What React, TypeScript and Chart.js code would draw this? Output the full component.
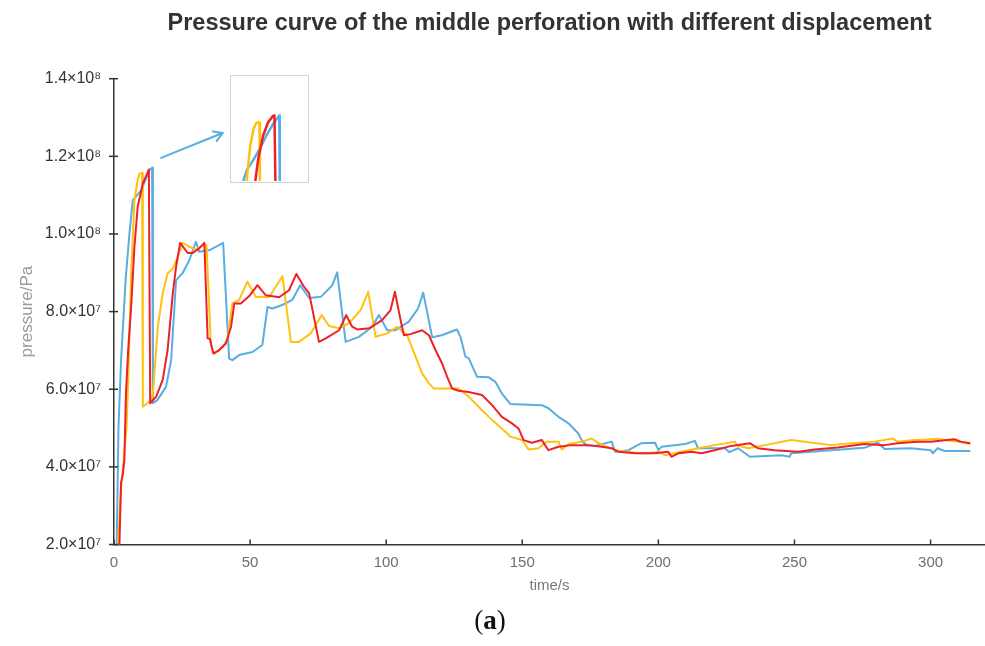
import React, { useEffect, useRef } from "react";
import { Chart, registerables } from "chart.js";

Chart.register(...registerables);

// ---------- text ----------
const chartTitle = "Pressure curve of the middle perforation with different displacement";
const xAxisTitle = "time/s";
const yAxisTitle = "pressure/Pa";

// ---------- axes (pressure in units of 10^7 Pa) ----------
const xMin = 0;
const xMax = 320;
const yMin = 2;
const yMax = 14;
const xTickValues = [0, 50, 100, 150, 200, 250, 300];
const yTickValues = [2, 4, 6, 8, 10, 12, 14];
const yTickLabels = ["2.0×10⁷", "4.0×10⁷", "6.0×10⁷", "8.0×10⁷", "1.0×10⁸", "1.2×10⁸", "1.4×10⁸"];

// ---------- blue series ----------
const blueTime = [0.5, 1.0, 1.65, 2.6, 4.3, 5.7, 6.9, 10.0, 13.0, 14.0, 14.3, 15.9, 19.1, 21.0, 22.8, 25.2, 27.7, 30.1, 31.3, 35.0, 40.1, 42.3, 43.5, 46.0, 50.9, 54.5, 56.4, 58.2, 61.8, 65.5, 68.4, 71.7, 76.0, 80.2, 82.0, 85.1, 90.0, 94.9, 97.3, 100.4, 103.4, 108.3, 111.7, 113.6, 116.9, 120.4, 126.0, 127.3, 129.1, 130.3, 133.4, 137.6, 140.1, 142.5, 145.6, 157.2, 159.6, 163.3, 167.0, 170.6, 172.1, 173.7, 176.8, 182.8, 184.1, 189.0, 193.8, 198.8, 200.0, 201.2, 209.8, 213.4, 214.6, 224.4, 226.0, 229.3, 233.6, 245.2, 248.2, 248.8, 256.2, 263.5, 275.7, 280.6, 283.1, 292.8, 300.1, 300.8, 302.6, 305.1, 314.6];
const bluePressure = [1.6, 2.0, 5.03, 6.75, 8.86, 10.02, 10.87, 11.12, 11.64, 11.71, 5.64, 5.72, 6.06, 6.75, 8.81, 8.99, 9.33, 9.80, 9.54, 9.58, 9.77, 6.79, 6.75, 6.88, 6.96, 7.14, 8.12, 8.08, 8.17, 8.30, 8.68, 8.35, 8.38, 8.68, 9.01, 7.22, 7.35, 7.61, 7.91, 7.52, 7.52, 7.74, 8.08, 8.49, 7.34, 7.39, 7.54, 7.35, 6.84, 6.80, 6.32, 6.31, 6.19, 5.89, 5.62, 5.59, 5.51, 5.29, 5.12, 4.86, 4.65, 4.56, 4.54, 4.65, 4.39, 4.43, 4.61, 4.62, 4.43, 4.52, 4.59, 4.67, 4.48, 4.48, 4.38, 4.48, 4.26, 4.30, 4.26, 4.35, 4.39, 4.43, 4.49, 4.62, 4.46, 4.48, 4.43, 4.35, 4.48, 4.41, 4.41];

// ---------- yellow series ----------
const yellowTime = [0.8, 1.5, 2.5, 3.6, 4.6, 5.3, 6.3, 7.5, 8.7, 9.35, 10.3, 10.6, 13.0, 14.2, 16.1, 17.9, 19.7, 21.6, 23.4, 25.2, 27.7, 30.1, 32.6, 34.0, 35.6, 36.8, 39.9, 41.7, 43.5, 46.0, 49.0, 52.1, 57.0, 61.9, 65.0, 68.0, 72.3, 76.3, 79.0, 82.7, 86.3, 90.6, 93.4, 96.1, 100.4, 104.0, 107.7, 110.8, 113.2, 115.7, 117.5, 126.6, 130.3, 135.2, 138.9, 142.5, 145.6, 149.9, 152.3, 156.0, 159.0, 163.3, 164.5, 167.0, 171.9, 175.5, 178.0, 184.1, 189.0, 192.6, 196.3, 200.0, 202.4, 208.5, 214.6, 220.7, 228.1, 229.0, 233.0, 239.1, 248.8, 253.7, 263.5, 270.8, 279.4, 286.1, 287.9, 294.1, 302.6, 309.9, 314.6];
const yellowPressure = [1.5, 2.0, 3.4, 4.2, 5.0, 6.4, 8.98, 10.87, 11.39, 11.56, 11.57, 5.55, 5.68, 5.81, 7.61, 8.47, 8.98, 9.11, 9.41, 9.77, 9.67, 9.60, 9.71, 9.71, 7.14, 6.92, 7.09, 7.31, 8.21, 8.30, 8.77, 8.38, 8.37, 8.91, 7.22, 7.22, 7.44, 7.91, 7.63, 7.57, 7.70, 8.04, 8.51, 7.35, 7.44, 7.61, 7.39, 6.84, 6.41, 6.15, 6.02, 6.02, 5.81, 5.46, 5.21, 4.99, 4.78, 4.69, 4.45, 4.48, 4.65, 4.65, 4.45, 4.59, 4.65, 4.73, 4.61, 4.43, 4.39, 4.35, 4.35, 4.39, 4.30, 4.39, 4.48, 4.56, 4.65, 4.55, 4.48, 4.56, 4.69, 4.65, 4.56, 4.61, 4.65, 4.73, 4.65, 4.69, 4.72, 4.65, 4.59];

// ---------- red series ----------
const redTime = [1.2, 2.0, 2.6, 3.3, 3.8, 4.4, 5.2, 6.3, 7.5, 8.7, 10.6, 12.8, 13.3, 15.5, 17.9, 19.7, 21.6, 22.8, 24.3, 27.1, 28.9, 31.3, 33.2, 34.4, 35.2, 36.5, 38.7, 41.1, 43.0, 44.2, 46.6, 49.7, 52.7, 55.8, 60.7, 64.3, 67.0, 69.8, 71.7, 75.3, 77.8, 82.7, 85.3, 87.5, 89.4, 93.7, 98.5, 101.6, 103.2, 105.3, 106.5, 108.9, 113.2, 115.7, 118.1, 120.5, 122.4, 124.2, 126.6, 130.3, 135.2, 138.9, 142.5, 146.2, 148.6, 150.5, 153.5, 157.2, 159.6, 163.3, 168.2, 174.3, 179.2, 182.8, 185.3, 191.4, 198.8, 203.6, 204.8, 207.3, 212.2, 215.8, 220.7, 226.8, 233.6, 236.6, 242.7, 251.3, 257.4, 265.9, 275.7, 283.1, 287.9, 295.3, 300.1, 308.7, 311.1, 314.6];
const redPressure = [1.5, 2.0, 3.6, 3.83, 4.18, 5.9, 7.0, 8.12, 9.67, 10.70, 11.30, 11.66, 5.64, 5.81, 6.24, 7.01, 8.47, 9.15, 9.77, 9.51, 9.51, 9.63, 9.77, 7.31, 7.3, 6.92, 7.01, 7.18, 7.61, 8.21, 8.21, 8.40, 8.68, 8.42, 8.37, 8.55, 8.97, 8.64, 8.47, 7.22, 7.31, 7.52, 7.91, 7.61, 7.54, 7.57, 7.78, 8.04, 8.51, 7.78, 7.39, 7.42, 7.52, 7.39, 7.01, 6.67, 6.32, 6.02, 5.96, 5.93, 5.85, 5.59, 5.29, 5.12, 4.99, 4.69, 4.62, 4.69, 4.43, 4.52, 4.56, 4.56, 4.52, 4.48, 4.39, 4.35, 4.35, 4.39, 4.26, 4.35, 4.39, 4.35, 4.43, 4.54, 4.61, 4.48, 4.43, 4.39, 4.45, 4.50, 4.59, 4.56, 4.61, 4.65, 4.65, 4.71, 4.65, 4.61];

// ---------- inset (magnified peak) ----------
const insetXMin = 5.2;
const insetXMax = 19.0;
const insetYMin = 10.3;
const insetYMax = 12.56;
const insetBlueTime = [7.3, 7.53, 8.13, 9.29, 10.46, 11.64, 12.8, 13.67, 13.97, 14.06];
const insetBluePressure = [10.2, 10.34, 10.55, 10.76, 11.0, 11.28, 11.52, 11.66, 11.71, 10.2];
const insetYellowTime = [7.95, 8.36, 8.71, 9.29, 9.76, 10.16, 10.37, 10.46];
const insetYellowPressure = [10.2, 10.69, 11.07, 11.42, 11.54, 11.57, 11.56, 10.2];
const insetRedTime = [9.5, 10.16, 11.04, 11.92, 12.8, 13.09, 13.27];
const insetRedPressure = [10.2, 10.79, 11.28, 11.56, 11.70, 11.71, 10.2];

// arrow pointing from the peak to the inset (data coordinates)
const arrowFrom = { t: 17.3, p: 11.96 };
const arrowTo = { t: 39.9, p: 12.6 };

const blueColor = "#58ADE2";
const yellowColor = "#FFC20E";
const redColor = "#EE2028";
const sansFamily = '"Liberation Sans", Arial, Helvetica, sans-serif';

const toPoints = (t: number[], p: number[]) => t.map((x, i) => ({ x, y: p[i] }));

const axisTickPlugin = {
  id: "axisTicksAndArrow",
  afterDraw(chart: any) {
    const { ctx, chartArea, scales } = chart;
    const xs = scales.x;
    const ys = scales.y;
    ctx.save();
    ctx.strokeStyle = "#333";
    ctx.lineWidth = 1.5;
    xTickValues.forEach((v) => {
      const px = xs.getPixelForValue(v);
      ctx.beginPath();
      ctx.moveTo(px, chartArea.bottom);
      ctx.lineTo(px, chartArea.bottom - 5);
      ctx.stroke();
    });
    yTickValues.forEach((v) => {
      const py = ys.getPixelForValue(v);
      ctx.beginPath();
      ctx.moveTo(chartArea.left - 5, py);
      ctx.lineTo(chartArea.left + 4, py);
      ctx.stroke();
    });
    // arrow
    const x1 = xs.getPixelForValue(arrowFrom.t);
    const y1 = ys.getPixelForValue(arrowFrom.p);
    const x2 = xs.getPixelForValue(arrowTo.t);
    const y2 = ys.getPixelForValue(arrowTo.p);
    const ang = Math.atan2(y2 - y1, x2 - x1);
    ctx.strokeStyle = blueColor;
    ctx.lineWidth = 2;
    ctx.lineCap = "round";
    ctx.beginPath();
    ctx.moveTo(x1, y1);
    ctx.lineTo(x2, y2);
    ctx.moveTo(x2 - 10 * Math.cos(ang - 0.55), y2 - 10 * Math.sin(ang - 0.55));
    ctx.lineTo(x2, y2);
    ctx.lineTo(x2 - 10 * Math.cos(ang + 0.55), y2 - 10 * Math.sin(ang + 0.55));
    ctx.stroke();
    ctx.restore();
  },
};

export default function App() {
  const mainRef = useRef<HTMLCanvasElement | null>(null);
  const insetRef = useRef<HTMLCanvasElement | null>(null);

  useEffect(() => {
    document.body.style.margin = "0";
    const lineDs = (label: string, pts: any[], color: string, order: number, width = 2) => ({
      label,
      data: pts,
      borderColor: color,
      backgroundColor: color,
      borderWidth: width,
      pointRadius: 0,
      tension: 0,
      fill: false,
      order,
      borderJoinStyle: "round",
    });

    const main = new Chart(mainRef.current as HTMLCanvasElement, {
      type: "line",
      data: {
        datasets: [
          lineDs("blue", toPoints(blueTime, bluePressure), blueColor, 2),
          lineDs("yellow", toPoints(yellowTime, yellowPressure), yellowColor, 1),
          lineDs("red", toPoints(redTime, redPressure), redColor, 0),
        ] as any,
      },
      options: {
        animation: false,
        responsive: false,
        layout: { padding: { left: 0, right: 0, top: 0, bottom: 51.5 } },
        plugins: {
          legend: { display: false },
          tooltip: { enabled: false },
          title: {
            display: true,
            text: chartTitle,
            fullSize: false,
            color: "#333",
            font: { family: sansFamily, size: 23.5, weight: "bold" },
            padding: { top: 9, bottom: 41.5 },
          },
        },
        scales: {
          x: {
            type: "linear",
            min: xMin,
            max: xMax,
            afterBuildTicks: (s: any) => {
              s.ticks = xTickValues.map((v) => ({ value: v }));
            },
            afterFit: (s: any) => {
              s.height = 50;
            },
            grid: { display: true, drawOnChartArea: false, drawTicks: false },
            border: { display: true, color: "#333", width: 1.5 },
            ticks: {
              padding: 9,
              color: "#6e6e6e",
              font: { family: sansFamily, size: 15 },
              maxRotation: 0,
              callback: (v: any) => String(v),
            },
            title: {
              display: true,
              text: xAxisTitle,
              color: "#777",
              font: { family: sansFamily, size: 15 },
              padding: { top: 2, bottom: 0 },
            },
          },
          y: {
            type: "linear",
            min: yMin,
            max: yMax,
            afterBuildTicks: (s: any) => {
              s.ticks = yTickValues.map((v) => ({ value: v }));
            },
            afterFit: (s: any) => {
              s.width = 114;
            },
            grid: { display: true, drawOnChartArea: false, drawTicks: false },
            border: { display: true, color: "#333", width: 1.5 },
            ticks: {
              padding: 13,
              color: "#333",
              font: { family: sansFamily, size: 16 },
              callback: (v: any) => {
                const i = yTickValues.indexOf(Number(v));
                return i >= 0 ? yTickLabels[i] : "";
              },
            },
            title: {
              display: true,
              text: yAxisTitle,
              color: "#9a9a9a",
              font: { family: sansFamily, size: 17 },
              padding: { top: 17, bottom: 0 },
            },
          },
        },
      } as any,
      plugins: [axisTickPlugin],
    });

    const inset = new Chart(insetRef.current as HTMLCanvasElement, {
      type: "line",
      data: {
        datasets: [
          lineDs("blue", toPoints(insetBlueTime, insetBluePressure), blueColor, 2, 2.5),
          lineDs("yellow", toPoints(insetYellowTime, insetYellowPressure), yellowColor, 1, 2.5),
          lineDs("red", toPoints(insetRedTime, insetRedPressure), redColor, 0, 2.5),
        ] as any,
      },
      options: {
        animation: false,
        responsive: false,
        layout: { padding: 0 },
        plugins: { legend: { display: false }, tooltip: { enabled: false }, title: { display: false } },
        scales: {
          x: { type: "linear", min: insetXMin, max: insetXMax, display: false },
          y: { type: "linear", min: insetYMin, max: insetYMax, display: false },
        },
      } as any,
    });

    return () => {
      main.destroy();
      inset.destroy();
    };
  }, []);

  return (
    <div style={{ position: "fixed", left: 0, top: 0, width: 985, height: 646, background: "#fff", overflow: "hidden" }}>
      <canvas ref={mainRef} width={985} height={646} style={{ display: "block" }} />
      <div
        style={{
          position: "absolute",
          left: 230,
          top: 75,
          width: 79,
          height: 108,
          boxSizing: "border-box",
          border: "1.5px solid #d2d2d2",
          background: "#fff",
        }}
      >
        <canvas ref={insetRef} width={76} height={105} style={{ display: "block" }} />
      </div>
      <div
        style={{
          position: "absolute",
          left: 0,
          top: 605,
          width: 980,
          textAlign: "center",
          fontFamily: '"Liberation Serif", "DejaVu Serif", serif',
          fontSize: 27,
          color: "#111",
        }}
      >
        (<b>a</b>)
      </div>
    </div>
  );
}
